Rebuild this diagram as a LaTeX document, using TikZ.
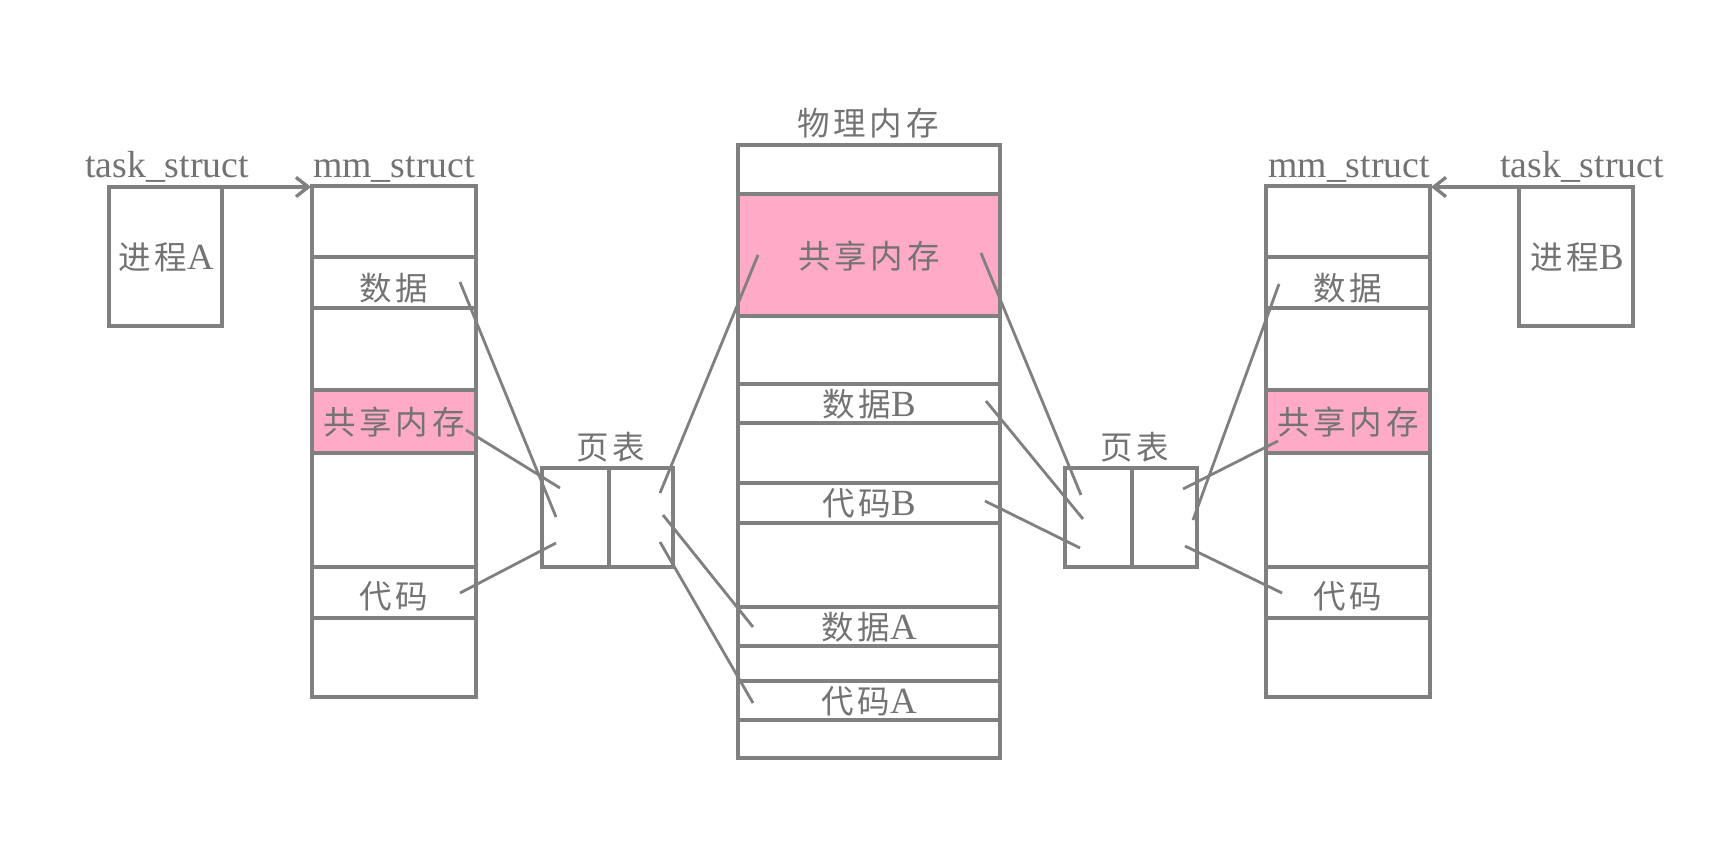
\documentclass[tikz,border=0pt]{standalone}
\usepackage{fontspec}
\usetikzlibrary{arrows.meta}
\setmainfont{Liberation Serif}
\newfontfamily\cjk[LetterSpace=12]{Noto Sans CJK SC}
\newfontfamily\lat{Liberation Serif}
\newcommand{\latn}[1]{{\lat\fontsize{21}{22}\selectfont #1}}
\definecolor{lngray}{RGB}{128,128,128}
\definecolor{txgray}{RGB}{115,115,115}
\definecolor{shpink}{RGB}{255,170,199}
\tikzset{
  cell/.style={draw=lngray,line width=1.8pt},
  shcell/.style={cell,fill=shpink},
  link/.style={draw=lngray,line width=1.6pt},
  ptr/.style={draw=lngray,line width=1.9pt,-{Straight Barb[length=7pt,width=11pt,line width=1.9pt]}},
  zh/.style={text=txgray,inner sep=0pt,font=\fontsize{18.5}{22}\selectfont\cjk},
  en/.style={text=txgray,inner sep=0pt,font=\fontsize{21.5}{24}\selectfont},
}

\begin{document}
\begin{tikzpicture}[line cap=butt,line join=miter,x=0.02cm,y=-0.02cm]
\useasboundingbox (0,0) rectangle (1720,862);
\fill[white] (0,0) rectangle (1720,862);
% process A
\draw[cell] (109,187) rectangle (222,326);
\node[zh] (procA) at (166,257) {进程\latn{A}};
\node[en,anchor=base] (taskA) at (167,177) {task\_struct};
% mm_struct A
\draw[cell] (312,186) rectangle (476,697);
\draw[cell] (312,257) rectangle (476,308);
\draw[shcell] (312,390) rectangle (476,453);
\draw[cell] (312,567) rectangle (476,618);
\node[en,anchor=base] (mmA) at (394,177) {mm\_struct};
\node[zh] (datA) at (394,288) {数据};
\node[zh] (shA) at (394,422) {共享内存};
\node[zh] (codA) at (394,596) {代码};
\coordinate (tAc) at (222,187);
\coordinate (mAc) at (311,187);
\draw[ptr] (tAc) -- (mAc);
% page table A
\draw[cell] (542,468) rectangle (673,567);
\draw[cell] (609,468) -- (609,567);
\node[zh] (ptA) at (611,447) {页表};
% physical memory
\node[zh] (phys) at (868,123) {物理内存};
\draw[cell] (738,145) rectangle (1000,758);
\draw[shcell] (738,194) rectangle (1000,316);
\draw[cell] (738,384) rectangle (1000,423);
\draw[cell] (738,483) rectangle (1000,523);
\draw[cell] (738,607) rectangle (1000,646);
\draw[cell] (738,681) rectangle (1000,720);
\node[zh] (phSh) at (869,256) {共享内存};
\node[zh] (phDB) at (869,404) {数据\latn{B}};
\node[zh] (phCB) at (869,503) {代码\latn{B}};
\node[zh] (phDA) at (869,627) {数据\latn{A}};
\node[zh] (phCA) at (869,701) {代码\latn{A}};
% page table B
\draw[cell] (1065,468) rectangle (1197,567);
\draw[cell] (1132,468) -- (1132,567);
\node[zh] (ptB) at (1135,447) {页表};
% mm_struct B
\draw[cell] (1266,186) rectangle (1430,697);
\draw[cell] (1266,257) rectangle (1430,308);
\draw[shcell] (1266,390) rectangle (1430,453);
\draw[cell] (1266,567) rectangle (1430,618);
\node[en,anchor=base] (mmB) at (1349,177) {mm\_struct};
\node[zh] (datB) at (1348,288) {数据};
\node[zh] (shB) at (1348,422) {共享内存};
\node[zh] (codB) at (1348,596) {代码};
% process B
\draw[cell] (1519,187) rectangle (1633,326);
\node[zh] (procB) at (1577,257) {进程\latn{B}};
\node[en,anchor=base] (taskB) at (1582,177) {task\_struct};
\coordinate (tBc) at (1519,187);
\coordinate (mBc) at (1431,187);
\draw[ptr] (tBc) -- (mBc);
% mapping ends, left half
\coordinate (aD) at (460,282);  \coordinate (pa1) at (556,517);
\coordinate (aS) at (466,430);  \coordinate (pa2) at (560,488);
\coordinate (aC) at (460,593);  \coordinate (pa3) at (556,543);
\coordinate (pa4) at (660,493); \coordinate (xS1) at (758,255);
\coordinate (pa5) at (663,515); \coordinate (xDA) at (753,627);
\coordinate (pa6) at (660,542); \coordinate (xCA) at (753,703);
% mapping ends, right half
\coordinate (bD) at (1279,284); \coordinate (pb1) at (1193,520);
\coordinate (bS) at (1278,441); \coordinate (pb2) at (1183,489);
\coordinate (bC) at (1282,593); \coordinate (pb3) at (1185,546);
\coordinate (pb4) at (1081,495); \coordinate (xS2) at (981,253);
\coordinate (pb5) at (1083,519); \coordinate (xDB) at (986,401);
\coordinate (pb6) at (1080,548); \coordinate (xCB) at (985,501);
\draw[link] (aD) -- (pa1);
\draw[link] (aS) -- (pa2);
\draw[link] (aC) -- (pa3);
\draw[link] (pa4) -- (xS1);
\draw[link] (pa5) -- (xDA);
\draw[link] (pa6) -- (xCA);
\draw[link] (bD) -- (pb1);
\draw[link] (bS) -- (pb2);
\draw[link] (bC) -- (pb3);
\draw[link] (pb4) -- (xS2);
\draw[link] (pb5) -- (xDB);
\draw[link] (pb6) -- (xCB);
\end{tikzpicture}
\end{document}
